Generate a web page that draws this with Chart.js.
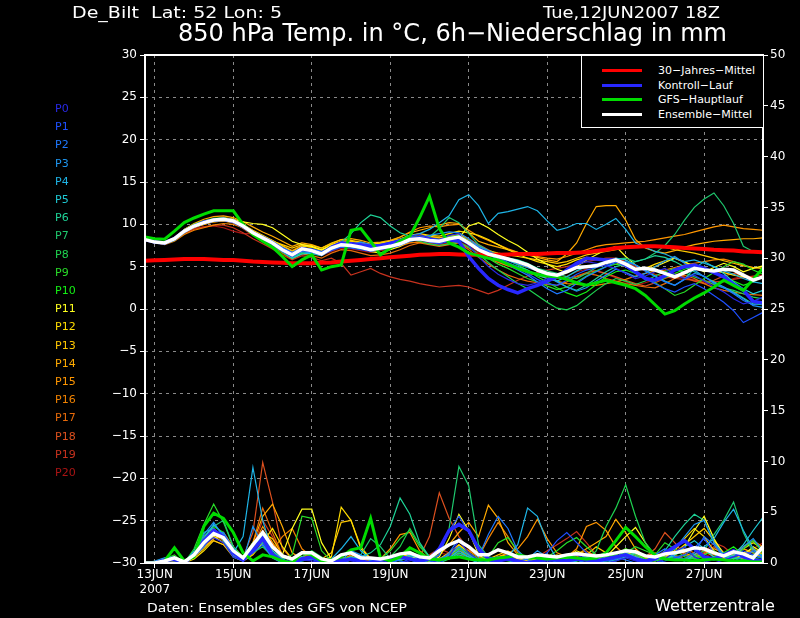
<!DOCTYPE html>
<html>
<head>
<meta charset="utf-8">
<script src="https://cdn.jsdelivr.net/npm/chart.js@4.4.1/dist/chart.umd.min.js"></script>
<style>
  body { margin: 0; background: #000; }
  #rahmen { position: relative; width: 800px; height: 618px; overflow: hidden; }
  canvas { position: absolute; left: 0; top: 0; }
  .txt { position: absolute; color: #fff; font-family: "DejaVu Sans", sans-serif; white-space: nowrap; transform-origin: left top; line-height: 1; }
  #legende { position: absolute; left: 581px; top: 55px; width: 181px; height: 71px; background: #000; border: 1px solid #fff; }
  .zeile { position: absolute; left: 0; height: 14px; }
  .strich { position: absolute; left: 20px; width: 40px; height: 3px; }
  .name { position: absolute; left: 76px; top: 0; font-size: 11px; color: #fff; font-family: "DejaVu Sans", sans-serif; white-space: nowrap; }
</style>
</head>
<body>
<div id="rahmen">
  <canvas id="grafico" width="800" height="618"></canvas>
  <div class="txt" style="left:72px;top:5px;font-size:16px" data-w="210">De_Bilt&nbsp;&nbsp;Lat: 52 Lon: 5</div>
  <div class="txt" style="left:543px;top:5px;font-size:16px" data-w="177">Tue,12JUN2007 18Z</div>
  <div class="txt" style="left:178px;top:21px;font-size:24px" data-w="549">850 hPa Temp. in °C, 6h−Niederschlag in mm</div>
  <div class="txt" style="left:147px;top:601px;font-size:13px" data-w="260">Daten: Ensembles des GFS von NCEP</div>
  <div class="txt" style="left:655px;top:599px;font-size:15px" data-w="120">Wetterzentrale</div>
  <div id="legende"></div>
  <div id="pnamen"></div>
</div>
<script>
// Ensemble-Mitglieder P0..P20, 850 hPa Temperatur (°C), alle 6 Stunden ab 12JUN 18Z
const T_P0 = [8.3,7.9,7.7,8.2,9.1,9.9,10.4,10.6,10.5,10.2,9.6,8.8,8.2,7.6,6.8,6.2,
  6.9,6.8,6.6,7.4,7.9,7.8,7.5,7.3,7.6,7.9,8.2,8.6,8.8,8.4,8.2,8.7,
  8.9,7.5,6.2,5.0,4.1,3.5,3.0,2.8,3.1,3.6,3.9,4.5,5.2,5.6,5.4,5.1,
  4.8,4.2,3.6,3.9,4.4,4.8,4.1,3.6,4.0,3.3,2.6,2.0,1.2,0.6,0.9,1.4];
const T_P1 = [8.2,7.8,7.8,8.4,9.3,9.9,10.3,10.5,10.7,10.5,9.9,9.1,8.5,7.9,7.2,6.6,
  7.3,7.0,6.4,6.9,7.3,7.2,7.0,6.8,7.0,7.2,7.5,8.0,8.2,7.9,7.7,8.0,
  8.2,7.6,7.2,6.8,6.1,5.5,5.0,4.2,3.5,3.0,2.8,3.4,4.1,4.6,4.9,5.2,
  5.6,5.0,4.2,3.6,3.0,2.4,2.0,2.6,3.0,2.4,1.6,0.8,-0.2,-1.6,-1.0,-0.4];
const T_P2 = [8.1,7.9,7.9,8.3,9.1,9.7,10.1,10.4,10.5,10.3,9.8,9.1,8.6,8.0,7.3,6.7,
  7.2,7.1,6.8,7.3,7.7,7.7,7.6,7.2,7.4,7.6,7.9,8.3,8.5,8.3,8.2,8.4,
  8.6,8.0,7.3,6.5,5.8,5.2,4.6,4.0,3.2,2.4,1.8,2.2,3.0,3.8,4.4,5.0,
  5.5,5.6,5.2,4.5,3.8,3.2,2.8,3.5,4.2,3.9,3.0,2.5,1.8,1.0,0.5,0.8];
const T_P3 = [8.3,8.0,7.7,8.2,9.2,9.8,10.2,10.5,10.6,10.4,9.7,8.9,8.3,7.7,6.9,6.2,
  6.8,6.6,6.3,7.0,7.4,7.6,7.9,7.6,7.3,7.5,7.8,8.1,8.4,8.7,8.9,9.1,
  9.0,8.3,7.4,6.9,6.2,5.7,5.3,4.9,4.5,3.9,3.2,2.6,2.1,2.5,3.3,4.0,
  4.7,4.3,3.8,4.2,5.0,5.7,6.2,5.4,4.6,3.8,3.1,2.6,1.9,1.2,0.4,0.2];
const T_P4 = [8.2,7.9,7.8,8.4,9.3,9.9,10.3,10.6,10.7,10.4,9.8,9.0,8.4,7.8,7.1,6.5,
  7.1,6.9,6.6,7.3,7.8,7.7,7.4,7.2,7.5,7.8,8.2,8.6,8.9,9.4,10.2,11.0,
  12.9,13.5,12.2,10.1,11.3,11.5,11.8,12.1,11.6,10.4,9.3,9.6,10.1,10.1,9.4,10.0,
  10.7,9.4,7.8,7.3,6.8,6.5,6.0,5.6,5.8,5.4,5.0,4.5,4.1,3.6,3.2,3.0];
const T_P5 = [8.2,7.8,7.8,8.2,9.1,9.8,10.2,10.4,10.5,10.3,9.7,9.0,8.4,7.7,6.8,6.0,
  6.5,6.6,6.5,7.1,7.5,7.4,7.2,7.0,7.2,7.4,7.7,8.1,8.2,8.0,7.9,8.2,
  8.4,7.9,7.1,6.4,5.9,5.4,5.0,4.6,4.0,3.6,3.3,3.8,4.5,5.0,5.3,5.6,
  6.0,5.8,5.2,4.6,3.9,3.3,2.8,3.5,4.8,5.6,5.0,4.2,3.2,2.4,1.8,2.2];
const T_P6 = [8.3,7.9,7.7,8.1,9.0,9.7,10.2,10.5,10.6,10.3,9.6,8.9,8.3,7.6,6.8,6.1,
  6.7,6.7,6.6,7.3,7.9,8.9,10.2,11.1,10.8,9.8,9.0,8.6,8.3,8.0,7.8,8.2,
  8.4,7.8,7.0,6.6,6.3,6.0,5.8,5.4,4.8,4.1,3.3,2.6,2.2,2.8,3.6,4.4,
  5.0,5.3,5.6,5.9,6.3,6.1,5.6,5.0,4.4,3.8,3.2,2.6,2.0,1.3,0.6,0.5];
const T_P7 = [8.2,7.9,7.8,8.3,9.2,9.8,10.2,10.5,10.6,10.4,9.8,9.1,8.5,7.9,7.1,6.4,
  7.0,6.9,6.7,7.2,7.5,7.4,7.2,7.0,7.1,7.3,7.6,8.0,8.2,8.5,9.5,10.8,
  10.2,8.9,7.6,6.9,6.4,6.0,5.7,5.3,4.8,4.5,4.2,3.8,3.6,4.2,4.9,5.5,
  5.9,6.0,5.6,5.9,6.6,7.5,8.8,10.5,12.0,13.0,13.7,12.2,10.1,7.4,6.8,6.6];
const T_P8 = [8.3,8.0,7.8,8.3,9.1,9.7,10.1,10.4,10.5,10.3,9.7,9.0,8.4,7.8,7.0,6.3,
  6.8,6.8,6.5,7.0,7.4,7.3,7.1,7.0,7.2,7.5,7.9,8.2,8.0,7.7,7.5,7.7,
  7.9,7.3,6.5,5.5,4.6,3.8,3.0,2.4,1.6,0.8,0.1,-0.1,0.4,1.3,2.2,3.0,
  3.6,3.3,2.9,3.3,3.9,4.4,4.8,4.3,3.8,3.4,2.9,2.5,2.2,1.8,1.4,1.2];
const T_P9 = [8.2,7.8,7.8,8.3,9.3,10.0,10.4,10.7,10.8,10.5,9.9,9.1,8.4,7.7,6.9,6.3,
  7.0,7.0,6.7,7.4,7.8,7.6,7.4,7.1,7.3,7.6,8.0,8.4,8.6,8.3,8.1,8.3,
  8.5,7.8,6.9,6.0,5.3,4.8,4.2,3.6,3.2,2.7,2.3,2.6,3.2,3.9,4.5,5.0,
  5.3,5.1,4.4,3.8,3.1,2.4,1.6,2.0,2.8,3.6,4.3,5.0,5.6,5.3,4.6,4.1];
const T_P10 = [8.3,7.9,7.7,8.2,9.1,9.8,10.2,10.5,10.6,10.4,9.7,8.9,8.2,7.5,6.7,6.0,
  6.6,6.5,6.3,7.0,7.5,7.5,7.3,7.1,7.4,7.6,7.9,8.2,8.5,8.4,8.2,8.5,
  8.7,8.0,7.2,6.7,6.2,5.8,5.2,4.6,3.8,3.2,2.5,1.9,1.5,2.0,2.9,3.8,
  4.4,4.6,4.2,3.7,3.3,3.7,4.2,4.7,5.1,4.8,4.3,3.8,3.3,2.8,3.2,3.9];
const T_P11 = [8.2,7.9,7.9,8.4,9.4,10.0,10.4,10.6,10.7,10.6,10.3,10.1,10.0,9.6,8.8,8.0,
  7.6,7.4,7.0,7.5,7.9,7.8,7.4,6.8,6.6,7.0,7.4,8.0,8.3,8.0,7.8,8.1,
  8.4,9.8,10.2,9.6,8.8,8.1,7.5,6.7,5.9,5.3,4.7,4.3,5.0,5.8,6.4,7.0,
  7.4,6.2,5.2,4.6,5.0,5.5,6.0,5.6,5.0,4.4,4.9,5.4,5.0,4.4,4.8,5.1];
const T_P12 = [8.2,7.9,7.8,8.3,9.2,9.9,10.3,10.6,10.8,10.6,10.0,9.3,8.7,8.1,7.4,6.8,
  7.4,7.3,7.0,7.6,8.0,8.0,7.8,7.6,7.8,8.0,8.3,8.7,8.9,8.7,8.6,8.9,
  9.2,9.0,8.7,8.2,7.6,7.0,6.5,6.0,5.6,5.3,5.0,5.3,5.8,6.1,6.0,5.8,
  5.5,5.0,4.6,4.8,5.3,5.7,6.0,5.5,5.1,4.8,4.5,4.3,4.0,3.8,3.6,3.7];
const T_P13 = [8.2,7.8,7.7,8.2,9.0,9.6,10.0,10.3,10.4,10.2,9.6,9.0,8.4,8.0,7.6,7.2,
  7.6,7.5,7.2,7.8,8.2,8.1,7.9,7.6,7.7,7.9,8.2,8.6,8.8,8.6,8.4,8.6,
  8.8,8.1,7.4,6.9,6.6,6.4,6.2,6.0,5.8,5.6,5.4,5.6,6.0,6.4,6.6,6.8,
  7.0,7.2,7.3,7.4,7.5,7.3,7.0,6.8,6.6,6.3,6.0,5.7,5.4,5.1,4.9,4.8];
const T_P14 = [8.1,7.8,7.8,8.4,9.4,10.1,10.6,10.9,11.0,10.8,10.3,9.7,9.1,8.6,8.0,7.4,
  7.8,7.6,7.2,7.7,8.2,8.3,8.1,7.8,7.9,8.1,8.5,9.0,9.3,9.6,9.9,10.2,
  10.1,9.0,8.0,7.6,7.3,7.0,6.7,6.4,6.1,5.8,5.6,6.5,7.8,10.1,12.1,12.2,
  12.2,10.5,8.2,7.2,6.8,6.6,6.9,7.3,7.6,7.8,8.0,8.1,8.2,8.3,8.3,8.4];
const T_P15 = [8.2,7.9,7.8,8.3,9.2,9.8,10.2,10.5,10.6,10.4,9.9,9.2,8.6,8.1,7.5,6.9,
  7.5,7.3,6.9,7.5,8.0,8.0,7.8,7.5,7.7,8.0,8.5,9.1,9.6,9.8,9.7,9.9,
  10.0,9.3,8.6,8.1,7.6,7.1,6.7,6.4,6.2,6.0,5.9,6.2,6.6,7.0,7.4,7.6,
  7.7,7.8,7.9,8.0,8.2,8.4,8.6,8.8,9.1,9.4,9.7,9.9,9.7,9.5,9.4,9.3];
const T_P16 = [8.3,7.9,7.6,8.0,8.8,9.3,9.6,9.9,10.1,10.0,9.6,9.0,8.5,7.9,7.2,6.6,
  7.2,7.0,6.6,7.0,7.4,7.4,7.2,7.0,7.1,7.3,7.5,7.8,7.9,7.7,7.5,7.7,
  7.9,7.2,6.5,6.0,5.5,5.1,4.8,4.4,4.0,3.6,3.3,3.0,2.9,2.8,2.8,3.0,
  3.2,3.5,3.9,4.2,4.5,4.6,4.9,5.2,5.4,5.6,5.8,5.9,5.6,5.2,4.9,4.8];
const T_P17 = [8.2,7.8,7.7,8.2,9.1,9.7,10.0,10.3,10.4,10.2,9.5,8.7,8.1,7.4,6.6,5.9,
  6.5,6.3,6.0,6.6,7.0,6.9,6.6,6.3,6.4,6.6,7.0,7.5,7.8,7.6,7.4,7.6,
  7.8,7.0,6.1,5.3,4.6,4.0,3.6,3.3,3.1,2.9,2.8,3.2,3.8,4.2,4.0,3.6,
  3.3,3.0,2.8,2.6,2.5,3.0,3.6,4.0,3.6,3.0,2.5,2.2,2.0,1.8,1.7,1.6];
const T_P18 = [8.2,7.9,7.8,8.3,9.2,9.9,10.3,10.6,10.7,10.4,9.8,9.0,8.4,7.7,6.9,6.3,
  6.9,6.8,6.5,7.1,7.6,7.6,7.4,7.2,7.4,7.7,8.0,8.4,8.6,8.5,8.4,8.6,
  8.8,8.3,7.6,7.0,6.4,5.8,5.3,4.9,4.5,4.1,3.8,3.6,3.9,4.3,4.5,4.2,
  3.8,3.4,3.0,2.7,3.1,3.6,4.0,3.7,3.3,3.0,3.4,3.9,4.2,4.0,3.7,3.6];
const T_P19 = [8.3,7.9,7.7,8.1,8.9,9.4,9.7,9.9,9.9,9.6,9.0,8.3,7.7,7.1,6.4,5.8,
  6.3,6.1,5.7,6.0,5.4,4.0,4.4,4.8,4.2,3.8,3.5,3.3,3.0,2.8,2.6,2.7,
  2.8,2.6,2.2,1.8,2.2,2.8,3.4,3.9,4.3,4.6,4.8,5.0,5.3,5.6,5.8,6.0,
  6.0,5.6,5.0,4.5,4.1,3.8,3.6,3.5,3.4,3.3,3.2,3.3,3.5,3.7,3.9,4.0];
const T_P20 = [8.2,7.9,7.8,8.2,9.0,9.5,9.7,9.8,9.6,9.2,8.9,8.9,8.5,7.9,7.1,6.4,
  6.9,6.7,6.3,6.8,7.2,7.1,6.9,6.7,6.9,7.1,7.4,7.8,8.0,7.8,7.6,7.8,
  8.0,7.4,6.7,6.1,5.6,5.1,4.7,4.3,4.0,3.8,3.6,3.9,4.4,4.7,4.5,4.1,
  3.7,3.2,2.8,3.1,3.5,3.9,4.2,3.8,3.4,3.1,2.9,3.2,3.6,3.9,3.8,3.6];

// Hervorgehobene Kurven (Temperatur)
const T_KLIMA = [5.7,5.75,5.8,5.85,5.9,5.9,5.9,5.85,5.8,5.8,5.7,5.6,5.55,5.5,5.45,5.4,
  5.4,5.4,5.45,5.5,5.6,5.7,5.8,5.9,6.0,6.1,6.2,6.3,6.4,6.45,6.5,6.5,
  6.45,6.4,6.4,6.4,6.4,6.45,6.5,6.5,6.5,6.55,6.6,6.6,6.65,6.7,6.85,7.0,
  7.2,7.3,7.35,7.4,7.4,7.35,7.3,7.2,7.15,7.1,7.0,6.95,6.9,6.8,6.75,6.7];
const T_KONTROLL = [8.2,7.9,7.8,8.3,9.2,9.8,10.2,10.5,10.6,10.4,9.8,9.0,8.4,7.8,7.0,6.4,
  7.1,6.9,6.5,7.3,7.8,7.7,7.6,7.4,7.5,7.7,8.0,8.3,8.4,8.2,8.0,8.2,
  8.0,6.2,4.8,3.6,2.8,2.3,1.9,2.4,2.8,3.3,3.8,4.6,5.4,6.0,5.9,5.8,
  5.8,5.2,4.4,3.6,3.4,3.9,4.6,5.0,5.2,4.8,4.3,3.8,2.9,2.2,0.9,0.7];
const T_HAUPT = [8.5,8.3,8.25,9.2,10.2,10.75,11.2,11.6,11.6,11.6,10.0,8.8,8.0,7.3,6.2,5.0,
  5.8,6.4,4.6,5.0,5.2,9.3,9.5,8.0,6.4,7.2,8.0,8.6,10.8,13.3,9.5,7.8,
  7.3,6.6,6.3,6.0,5.8,5.3,4.8,4.4,4.1,3.9,3.8,3.5,3.1,2.8,3.1,3.4,
  3.1,2.8,2.4,1.6,0.5,-0.6,-0.2,0.6,1.3,1.9,2.6,3.4,2.8,2.2,3.5,4.8];
const T_MITTEL = [8.2,7.9,7.8,8.3,9.2,9.8,10.2,10.5,10.6,10.4,9.8,9.0,8.4,7.8,7.0,6.4,
  7.1,6.9,6.5,7.2,7.6,7.5,7.3,7.0,7.2,7.4,7.7,8.2,8.3,8.1,8.0,8.3,
  8.5,7.8,7.0,6.5,6.2,5.9,5.6,5.2,4.6,4.2,4.0,4.4,4.9,5.0,5.1,5.5,
  5.8,5.3,4.7,4.8,4.6,4.2,3.8,4.3,4.8,4.6,4.5,4.7,4.6,4.0,3.4,3.8];

// 6h-Niederschlag (mm), rechte Achse
const R_P0 = [0,0,0.3,0.2,0,0.6,1.8,2.5,2.0,0.6,0.2,1.4,2.6,1.0,0.2,0,
  0.3,0.2,0,0,0.4,0.2,0,0,0.3,0,0,0.2,0.5,0.3,0,0.6,
  2.2,1.0,0.3,0,0.4,0.8,0.2,0,0,0.2,0,0.3,0.8,0.4,0,0,
  0.2,0.5,0.2,0,0,0.4,1.1,1.6,0.6,0.2,0,0.3,0.6,0.9,0.4,0.2];
const R_P1 = [0,0,0.2,0,0,0.8,2.2,3.2,2.5,1.0,0.3,1.8,2.2,0.8,0,0,
  0.5,0.4,0,0,0.3,0,0,0.2,0.4,0.2,0,0.4,0.2,0,0.8,3.2,
  4.6,3.0,1.2,0.4,0.6,0.4,0,0,0.3,1.0,2.2,3.0,2.0,1.0,0.4,0.2,
  0.4,0.8,0.3,0,0,0.2,0.5,0.8,1.5,2.4,1.0,0.3,0.6,1.2,0.8,0.4];
const R_P2 = [0,0,0.4,0.3,0,0.6,1.6,2.8,3.0,1.4,0.4,1.0,1.8,0.6,0,0,
  0.2,0.4,0.2,0,0,0.3,0.2,0,0.2,0.4,0.2,0,0.3,0.4,0.2,1.0,
  2.4,1.6,0.6,2.8,4.6,3.4,1.2,0.3,0,0,0.2,0.6,0.3,0,0,0.3,
  0.6,0.3,0,0.2,0.8,1.4,0.6,0.4,1.0,2.6,1.8,0.6,0.2,0.6,1.2,0.6];
const R_P3 = [0,0,0.2,0.4,0,1.0,2.8,4.0,2.6,0.8,0.2,3.6,1.8,0.5,0,0,
  0.4,0.6,0.2,0,0.2,1.2,0.8,0.2,0,0,0.3,0.6,0.2,0,0.4,0.8,
  1.6,0.8,0.2,0,0.3,0.6,0.2,0.4,1.2,0.6,0,0,0.3,0.8,0.4,0,
  0.2,0.6,0.4,0,0.3,0.8,1.4,2.6,3.8,4.2,2.0,0.8,0.6,1.6,2.4,1.2];
const R_P4 = [0,0.2,0.5,0.6,0,0.8,2.4,3.8,2.8,1.0,2.6,9.4,4.2,1.0,0.2,0,
  0.6,0.4,0,0.4,1.4,2.6,1.2,0.3,0,0,0.4,0.8,0.4,0.2,0,0.5,
  1.2,0.6,0,0.2,0.3,0.6,1.8,5.4,4.6,2.0,0.4,0,0.2,0.6,0.3,0,
  0.4,0.8,0.6,0.2,0.4,1.0,0.6,0.2,0.8,1.6,2.4,4.0,5.3,3.2,1.4,0.6];
const R_P5 = [0,0,0.3,0.2,0,1.2,3.0,3.4,2.2,0.6,0.2,1.6,2.8,1.2,0.4,0,
  0.3,0.8,0.4,0,0.2,0.6,0.3,0,0.2,0.3,0.8,1.0,0.4,0,0.2,0.4,
  0.8,0.4,0,0,0.4,0.3,0,0,0.2,0.8,0.4,0.2,0,0.3,0.5,0.2,
  0.4,1.0,0.6,0.2,0,0.4,0.8,1.6,2.2,1.4,0.6,0.3,0.8,1.8,3.2,4.5];
const R_P6 = [0,0,0.2,0.3,0,0.8,2.2,3.0,2.4,1.0,0.3,1.2,2.4,1.6,0.6,0.2,
  0.4,0.6,0.2,0,0,0.4,0.6,1.0,1.8,3.6,6.4,4.8,2.0,0.6,0.2,0.4,
  1.0,0.6,0.2,0,0.2,0.4,0.2,0,0,0.3,0.6,0.8,0.4,0.2,0,0.2,
  0.3,0.6,1.0,0.8,0.4,1.2,2.6,3.8,4.8,4.2,2.0,0.8,0.4,0.6,0.8,0.5];
const R_P7 = [0,0,0.3,0.5,0,1.0,2.6,3.6,4.2,1.6,0.4,1.4,2.0,0.8,0.2,0,
  0.3,0.5,0.2,0,0.2,0.4,0.8,2.4,1.6,0.4,0.2,0.6,0.8,0.4,0.8,3.4,
  9.5,7.6,1.8,0.6,0.4,0.2,0,0,0.3,0.4,0.2,0,0.2,0.5,0.8,0.4,
  0.6,1.2,0.8,0.3,0.2,0.6,0.4,0.2,0.6,1.2,2.8,4.2,6.0,3.0,1.0,0.8];
const R_P8 = [0,0,0.2,0.4,0,0.6,2.0,3.2,2.6,1.2,0.4,1.0,1.6,0.6,0,0,
  0.6,1.2,0.6,0,0.3,0.4,0.2,0,0.3,0.6,1.6,3.4,1.8,0.6,0.2,0.5,
  1.4,0.8,0.3,0,0.4,0.6,0.3,0,0.2,0.4,0.3,0.6,0.4,0.2,1.2,3.6,
  5.4,7.7,4.6,2.0,0.8,0.4,0.6,0.8,0.4,0.2,0.6,1.0,0.6,0.3,0.4,0.6];
const R_P9 = [0,0,0.4,0.8,0,1.4,3.8,5.8,4.0,1.6,0.6,2.0,2.4,1.0,0.4,0.8,
  4.6,4.4,1.2,0.2,0.4,0.6,0.3,0,0.4,1.2,2.4,3.2,1.6,0.6,0.4,0.8,
  1.6,1.0,0.4,0.6,2.0,2.5,1.2,0.4,0.2,0.6,1.2,2.0,2.5,1.6,0.8,0.4,
  0.6,1.0,1.6,1.2,0.8,2.0,1.4,0.6,0.4,0.8,1.2,0.6,0.4,1.4,2.2,1.0];
const R_P10 = [0,0,0.3,0.4,0,0.8,2.4,3.6,3.0,1.0,0.2,1.2,2.2,0.8,0.2,0,
  0.2,0.4,0.2,0,0,0.3,0.2,0,0.2,0.4,0.8,1.2,0.6,0.2,0,0.4,
  1.0,0.6,0.2,0,0.3,0.4,0.2,0,0.2,0.3,0.6,0.4,0.2,0.4,0.8,0.6,
  0.8,1.4,1.0,0.4,0.2,0.4,0.8,1.2,0.8,0.4,0.6,1.0,1.6,0.8,0.4,0.3];
const R_P11 = [0,0,0.2,0.3,0,0.6,1.8,2.6,2.0,0.8,0.2,1.0,2.8,1.6,0.8,3.4,
  5.3,5.3,2.0,0.4,0.2,0.6,0.4,0,0.2,0.3,0.4,0.6,0.4,0.2,0.6,2.4,
  4.8,3.2,0.8,0.2,0.4,0.6,0.3,0,0.2,0.4,0.3,0.6,1.2,0.8,0.4,0.6,
  1.6,2.6,3.5,2.0,0.6,0.4,0.8,1.6,3.2,4.6,2.4,0.8,0.4,0.8,1.6,1.0];
const R_P12 = [0,0,0.2,0.2,0,0.4,1.2,2.2,1.8,0.6,0.2,0.8,2.0,3.4,1.6,0.4,
  0.6,0.4,0.3,0.6,5.5,4.2,1.4,0.4,0.2,0.3,0.6,0.8,0.3,0.2,0.4,1.0,
  1.8,1.0,0.4,0.2,0.6,0.8,0.4,0.2,0.4,0.6,0.4,0.2,0.4,0.6,0.8,0.4,
  0.6,1.0,0.8,0.4,0.3,0.6,1.2,2.4,3.4,2.6,1.2,0.6,0.8,1.4,2.0,1.4];
const R_P13 = [0,0,0.2,0.3,0,0.6,1.4,2.4,2.8,1.2,0.4,1.2,3.0,2.4,0.8,0.2,
  0.4,0.6,0.4,1.0,4.0,4.2,1.6,0.4,0.2,0.4,0.3,0.6,0.4,0.2,0.3,0.8,
  1.4,0.8,0.3,0.4,0.8,1.2,0.6,0.2,0.3,0.6,0.8,0.4,0.3,0.8,1.6,1.0,
  0.6,0.8,0.6,0.3,0.2,0.6,1.0,1.8,2.6,3.4,2.2,1.0,0.6,1.0,1.4,0.8];
const R_P14 = [0,0,0.3,0.2,0,0.8,2.0,2.6,3.0,1.6,0.6,2.0,4.6,5.8,3.6,1.0,
  0.4,0.6,0.3,0.2,0.4,0.6,0.3,0,0.3,0.4,0.8,1.0,0.6,0.4,0.8,1.8,
  3.0,4.0,2.6,5.7,4.4,2.0,0.8,0.4,0.6,0.8,0.4,0.2,0.8,1.4,2.0,2.6,
  4.3,3.0,1.4,0.6,0.4,0.8,1.2,1.0,0.6,0.8,1.4,1.0,0.6,0.4,0.8,1.2];
const R_P15 = [0,0,0.2,0.3,0,1.0,2.2,3.0,2.4,1.0,0.4,1.6,3.6,2.0,0.6,0.2,
  0.6,1.0,0.4,0.2,0.3,0.8,0.6,0.3,0.4,1.4,2.8,3.0,1.2,0.4,0.3,0.6,
  1.2,0.8,0.3,0.2,0.6,1.0,1.4,2.6,4.3,2.4,1.0,0.6,1.4,3.6,4.0,3.2,
  1.6,0.8,0.4,0.6,1.0,0.6,0.4,0.8,1.6,1.2,0.6,0.4,0.8,1.4,1.0,0.6];
const R_P16 = [0,0,0.3,0.4,0,0.6,1.6,2.4,2.6,1.4,0.6,1.4,3.0,1.2,2.6,3.4,
  1.4,0.6,0.3,0.2,0.4,0.6,0.4,0.2,0.3,0.6,0.4,0.8,0.6,0.3,0.4,0.8,
  1.6,1.2,0.6,2.4,4.0,2.6,1.0,0.4,0.2,0.4,0.6,0.4,0.8,1.2,0.6,0.4,
  0.8,1.4,0.8,0.4,0.6,0.8,0.6,0.4,0.8,1.2,0.8,0.6,1.0,1.6,2.2,1.6];
const R_P17 = [0,0,0.2,0.2,0,0.8,2.0,2.8,2.2,1.0,0.4,2.0,5.4,3.0,0.8,0.2,
  0.4,0.6,0.2,0.3,0.6,0.4,0.2,0,0.3,0.4,0.6,0.8,0.4,0.3,0.4,1.0,
  1.8,1.2,0.6,0.4,0.6,0.8,0.4,0.2,0.4,0.6,0.4,0.3,0.6,1.0,0.8,0.4,
  0.6,1.0,0.8,0.4,0.3,0.6,1.0,1.4,1.0,0.6,0.4,0.6,1.0,1.4,1.0,0.6];
const R_P18 = [0,0,0.3,0.4,0,1.0,2.6,3.4,2.6,1.2,0.6,3.0,9.9,6.0,1.4,0.4,
  0.6,0.8,0.3,0.2,0.4,0.6,0.3,0,0.2,0.4,0.8,1.0,0.6,2.6,6.9,4.4,
  2.6,1.4,0.6,0.3,0.4,0.6,0.3,0.2,0.4,0.6,0.4,0.6,1.0,0.8,0.4,0.3,
  0.6,1.0,0.8,0.6,1.4,3.0,2.0,0.8,0.6,1.0,1.6,1.0,0.6,0.8,1.2,0.8];
const R_P19 = [0,0,0.4,0.3,0,0.6,1.6,2.2,1.8,0.8,0.4,1.6,4.2,2.6,0.8,0.2,
  0.4,0.6,0.4,0.2,0.3,0.6,0.4,0.2,0.3,0.6,0.4,0.6,0.4,0.8,1.4,1.0,
  0.8,0.6,0.4,0.3,0.6,0.4,0.2,0.3,0.6,1.2,1.8,2.4,3.1,2.0,0.8,0.4,
  0.4,0.8,0.6,0.4,0.6,1.2,0.8,0.4,0.6,1.0,2.0,1.6,0.8,0.4,0.6,0.8];
const R_P20 = [0,0,0.3,0.2,0,0.8,2.0,2.8,2.4,1.0,0.4,1.2,3.2,2.0,0.6,0.2,
  0.3,0.5,0.3,0.2,0.4,0.3,0.2,0,0.2,0.4,0.6,0.4,0.3,0.6,1.0,0.8,
  1.0,0.6,0.3,0.2,0.4,0.6,0.3,0.2,0.3,0.4,0.6,0.8,0.4,0.3,0.2,0.4,
  0.6,0.8,0.4,0.2,0.4,0.8,1.4,0.8,0.4,0.6,1.0,0.6,0.4,0.6,1.4,2.0];
const R_KONTROLL = [0,0,0.3,0.4,0,0.8,2.2,3.2,2.6,1.0,0.3,1.2,2.4,0.8,0.2,0,
  0.4,0.6,0.2,0,0.2,0.4,0.2,0,0.3,0.4,0.6,0.4,0.2,0.4,1.4,3.2,
  3.8,3.2,1.4,0.4,0.2,0.4,0.2,0,0.2,0.4,0.3,0.2,0.4,0.3,0.2,0.4,
  0.6,0.8,0.4,0.2,0.4,1.0,1.6,2.2,1.4,0.6,0.4,0.8,1.2,0.6,0.3,0.2];
const R_HAUPT = [0,0,0.2,1.5,0.2,0.6,3.6,4.9,4.4,3.0,1.0,0.2,0.8,0.6,0.2,0,
  1.0,0.8,0.2,0.3,0.6,1.3,1.5,4.4,0.5,0.2,0.6,1.5,1.0,0.4,0.3,0.5,
  0.6,0.4,0.3,0.3,0.5,0.6,0.8,0.6,0.5,0.4,0.5,0.6,0.5,0.4,0.5,1.0,
  2.2,3.5,2.6,1.6,0.8,0.4,0.3,0.3,0.2,0.3,0.4,0.3,0.2,0.2,0.1,0.1];
const R_MITTEL = [0,0,0.2,0.5,0.1,0.8,2.0,2.9,2.5,1.2,0.5,1.8,3.0,1.6,0.7,0.4,
  1.0,1.0,0.4,0.2,0.8,1.0,0.5,0.5,0.4,0.6,0.9,1.0,0.6,0.5,1.2,1.8,
  2.2,1.6,0.8,0.8,1.3,1.0,0.6,0.6,0.8,0.7,0.6,0.8,0.9,0.8,0.7,0.8,
  1.0,1.2,1.1,0.7,0.6,0.9,1.0,1.2,1.5,1.4,1.0,0.7,1.1,0.9,0.5,1.6];

const mitgliedNamen = ['P0','P1','P2','P3','P4','P5','P6','P7','P8','P9','P10',
  'P11','P12','P13','P14','P15','P16','P17','P18','P19','P20'];
const mitgliedFarben = ['#2828e6','#1e50ff','#1e78ff','#1e96f0','#1eb4e6','#1ec8d2','#1ed296',
  '#1ec86e','#1ed250','#28dc28','#14f014','#ffff1e','#ffdc00','#ffc800','#ffaa00',
  '#ff9600','#f08200','#e66a0a','#dc501e','#c8321e','#aa1414'];
const tempMitglieder = [T_P0,T_P1,T_P2,T_P3,T_P4,T_P5,T_P6,T_P7,T_P8,T_P9,T_P10,
  T_P11,T_P12,T_P13,T_P14,T_P15,T_P16,T_P17,T_P18,T_P19,T_P20];
const regenMitglieder = [R_P0,R_P1,R_P2,R_P3,R_P4,R_P5,R_P6,R_P7,R_P8,R_P9,R_P10,
  R_P11,R_P12,R_P13,R_P14,R_P15,R_P16,R_P17,R_P18,R_P19,R_P20];

// Achsenbeschriftung: alle 48h ab 13JUN 00Z (Index 1)
const tickLabels = [['13JUN','2007'],'15JUN','17JUN','19JUN','21JUN','23JUN','25JUN','27JUN'];
const legendeNamen = ['30−Jahres−Mittel','Kontroll−Lauf','GFS−Hauptlauf','Ensemble−Mittel'];
const legendeFarben = ['#ff0000','#2828ff','#00dc00','#ffffff'];

window.onload = () => {
    // Zeitachse: 6h-Schritte ab 12JUN 18Z
    const stunden = T_MITTEL.map((_, i) => i * 6);
    const istTick = i => (i - 1) % 8 === 0;

    const datasets = [];
    tempMitglieder.forEach((werte, k) => datasets.push({
        data: werte, borderColor: mitgliedFarben[k], borderWidth: 1.2, yAxisID: 'y', order: 10
    }));
    regenMitglieder.forEach((werte, k) => datasets.push({
        data: werte, borderColor: mitgliedFarben[k], borderWidth: 1.2, yAxisID: 'y2', order: 10
    }));
    datasets.push({ data: T_KLIMA, borderColor: legendeFarben[0], borderWidth: 4, yAxisID: 'y', order: 4 });
    datasets.push({ data: T_KONTROLL, borderColor: legendeFarben[1], borderWidth: 3.5, yAxisID: 'y', order: 3 });
    datasets.push({ data: R_KONTROLL, borderColor: legendeFarben[1], borderWidth: 3.5, yAxisID: 'y2', order: 3 });
    datasets.push({ data: T_HAUPT, borderColor: legendeFarben[2], borderWidth: 3, yAxisID: 'y', order: 2 });
    datasets.push({ data: R_HAUPT, borderColor: legendeFarben[2], borderWidth: 3, yAxisID: 'y2', order: 2 });
    datasets.push({ data: T_MITTEL, borderColor: legendeFarben[3], borderWidth: 3.5, yAxisID: 'y', order: 1 });
    datasets.push({ data: R_MITTEL, borderColor: legendeFarben[3], borderWidth: 3.5, yAxisID: 'y2', order: 1 });

    // weisser Rahmen um den Plotbereich
    const rahmen = {
        id: 'rahmen',
        afterDatasetsDraw(chart) {
            const { ctx, chartArea: a } = chart;
            ctx.save();
            ctx.strokeStyle = '#fff';
            ctx.lineWidth = 2;
            ctx.strokeRect(a.left, a.top, a.right - a.left, a.bottom - a.top);
            ctx.restore();
        }
    };

    Chart.defaults.font.family = '"DejaVu Sans", sans-serif';
    Chart.defaults.font.size = 11;
    Chart.defaults.color = '#fff';

    new Chart(document.getElementById('grafico'), {
        type: 'line',
        data: { labels: stunden, datasets: datasets },
        options: {
            responsive: false,
            maintainAspectRatio: false,
            animation: false,
            events: [],
            layout: { padding: { top: 55, left: 0, right: 0, bottom: 0 } },
            elements: { point: { radius: 0 }, line: { tension: 0 } },
            plugins: { legend: { display: false }, tooltip: { enabled: false } },
            scales: {
                x: {
                    type: 'category',
                    offset: false,
                    afterFit: s => { s.height = 55; },
                    border: { display: false, dash: [3, 4] },
                    grid: {
                        color: c => istTick(c.index) ? '#8a8a8a' : 'transparent',
                        tickColor: c => istTick(c.index) ? '#ffffff' : 'transparent',
                        tickBorderDash: [],
                        tickLength: 5
                    },
                    ticks: {
                        autoSkip: false, maxRotation: 0, padding: 0,
                        font: { size: 12 },
                        callback: (v, i) => istTick(i) ? tickLabels[(i - 1) / 8] : ''
                    }
                },
                y: {
                    position: 'left',
                    min: -30, max: 30,
                    afterFit: s => { s.width = 145; },
                    border: { display: false, dash: [3, 4] },
                    grid: { color: '#8a8a8a', tickColor: '#ffffff', tickBorderDash: [], tickLength: 5 },
                    ticks: {
                        stepSize: 5, padding: 3, font: { size: 12 },
                        callback: v => String(v).replace('-', '−')
                    }
                },
                y2: {
                    position: 'right',
                    min: 0, max: 50,
                    afterFit: s => { s.width = 37; },
                    border: { display: false },
                    grid: { drawOnChartArea: false, tickColor: '#ffffff', tickLength: 5 },
                    ticks: { stepSize: 5, padding: 2, font: { size: 12 } }
                }
            }
        },
        plugins: [rahmen]
    });

    // Legende oben rechts
    const leg = document.getElementById('legende');
    legendeNamen.forEach((name, k) => {
        const z = document.createElement('div');
        z.className = 'zeile';
        z.style.top = (8 + k * 14.5) + 'px';
        z.innerHTML = '<div class="strich" style="top:5px;background:' + legendeFarben[k] + '"></div>' +
            '<div class="name">' + name + '</div>';
        leg.appendChild(z);
    });

    // Mitgliedernamen links
    const pn = document.getElementById('pnamen');
    mitgliedNamen.forEach((name, k) => {
        const d = document.createElement('div');
        d.className = 'txt';
        d.style.left = '55px';
        d.style.top = (103 + k * 18.2) + 'px';
        d.style.fontSize = '11px';
        d.style.color = mitgliedFarben[k];
        d.textContent = name;
        pn.appendChild(d);
    });

    // Textbreiten an das Original anpassen
    document.querySelectorAll('[data-w]').forEach(el => {
        const w = el.getBoundingClientRect().width;
        el.style.transform = 'scaleX(' + (el.dataset.w / w) + ')';
    });
};
</script>
</body>
</html>
